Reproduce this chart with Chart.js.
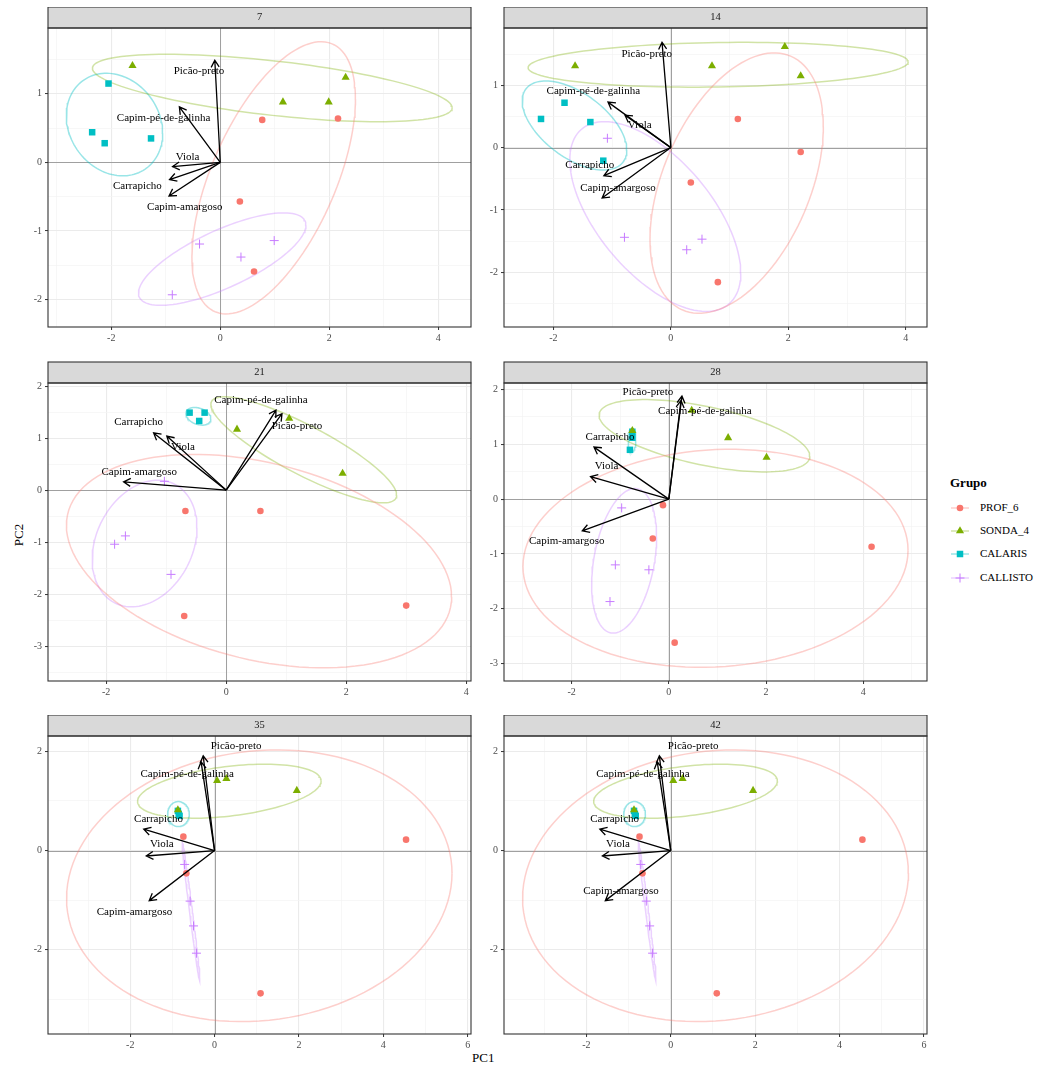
<!DOCTYPE html>
<html>
<head>
<meta charset="utf-8">
<script src="https://cdn.jsdelivr.net/npm/chart.js@4.4.1/dist/chart.umd.min.js"></script>
<style>
  body { margin: 0; background: #fff; width: 1039px; height: 1071px; position: relative; overflow: hidden; font-family: 'Liberation Serif', serif; }
  canvas { position: absolute; }
  .tit { position: absolute; font-size: 13px; font-weight: normal; color: #000; }
  .leg { position: absolute; font-size: 11px; color: #000; }
</style>
</head>
<body>
<div class="tit" style="left:472px;top:1050px;">PC1</div>
<div class="tit" style="left:8px;top:527px;transform:rotate(-90deg);">PC2</div>
<div class="tit" style="left:950px;top:475px;font-weight:bold;">Grupo</div>
<script>
// dados
const facetas = ['7', '14', '21', '28', '35', '42'];
const grupos = ['PROF_6', 'SONDA_4', 'CALARIS', 'CALLISTO'];
const variaveis = ['Picão-preto', 'Capim-pé-de-galinha', 'Viola', 'Carrapicho', 'Capim-amargoso'];

// limites e passo dos eixos por faceta
const xLim = [[-3.16, 4.6], [-2.84, 4.36], [-2.97, 4.08], [-3.39, 5.31], [-3.95, 6.08], [-3.95, 6.07]];
const yLim = [[-2.40, 1.96], [-2.88, 1.92], [-3.67, 2.06], [-3.32, 2.12], [-3.70, 2.31], [-3.70, 2.31]];
const xPasso = [2, 2, 2, 2, 2, 2];
const yPasso = [1, 1, 1, 1, 2, 2];

// scores: [grupo, PC1, PC2]
const pts7 = [
  ['PROF_6', 0.77, 0.62], ['PROF_6', 2.16, 0.64], ['PROF_6', 0.36, -0.57], ['PROF_6', 0.62, -1.59],
  ['SONDA_4', -1.61, 1.41], ['SONDA_4', 1.15, 0.88], ['SONDA_4', 1.99, 0.88], ['SONDA_4', 2.30, 1.24],
  ['CALARIS', -2.05, 1.15], ['CALARIS', -2.35, 0.44], ['CALARIS', -2.12, 0.28], ['CALARIS', -1.27, 0.35],
  ['CALLISTO', -0.38, -1.19], ['CALLISTO', 0.38, -1.38], ['CALLISTO', 0.99, -1.14], ['CALLISTO', -0.88, -1.93]
];
const pts14 = [
  ['PROF_6', 1.14, 0.46], ['PROF_6', 2.21, -0.07], ['PROF_6', 0.34, -0.56], ['PROF_6', 0.80, -2.16],
  ['SONDA_4', -1.63, 1.31], ['SONDA_4', 0.70, 1.31], ['SONDA_4', 1.94, 1.62], ['SONDA_4', 2.21, 1.15],
  ['CALARIS', -2.21, 0.46], ['CALARIS', -1.81, 0.72], ['CALARIS', -1.37, 0.41], ['CALARIS', -1.15, -0.21],
  ['CALLISTO', -1.08, 0.15], ['CALLISTO', -0.79, -1.44], ['CALLISTO', 0.27, -1.64], ['CALLISTO', 0.53, -1.47]
];
const pts21 = [
  ['PROF_6', -0.68, -0.40], ['PROF_6', 0.57, -0.40], ['PROF_6', -0.70, -2.42], ['PROF_6', 3.00, -2.22],
  ['SONDA_4', 0.18, 1.17], ['SONDA_4', 1.05, 1.38], ['SONDA_4', 1.94, 0.32],
  ['CALARIS', -0.61, 1.49], ['CALARIS', -0.36, 1.49], ['CALARIS', -0.45, 1.33],
  ['CALLISTO', -1.03, 0.17], ['CALLISTO', -1.68, -0.88], ['CALLISTO', -1.86, -1.04], ['CALLISTO', -0.92, -1.62]
];
const pts28 = [
  ['PROF_6', -0.12, -0.11], ['PROF_6', -0.33, -0.72], ['PROF_6', 4.17, -0.87], ['PROF_6', 0.12, -2.62],
  ['SONDA_4', 0.47, 1.62], ['SONDA_4', 1.22, 1.12], ['SONDA_4', 2.01, 0.76], ['SONDA_4', -0.75, 1.25],
  ['CALARIS', -0.75, 1.23], ['CALARIS', -0.75, 1.12], ['CALARIS', -0.80, 0.90],
  ['CALLISTO', -0.97, -0.16], ['CALLISTO', -1.10, -1.20], ['CALLISTO', -0.41, -1.29], ['CALLISTO', -1.21, -1.87]
];
const pts35 = [
  ['PROF_6', -0.74, 0.28], ['PROF_6', -0.67, -0.46], ['PROF_6', 4.54, 0.22], ['PROF_6', 1.09, -2.88],
  ['SONDA_4', 0.06, 1.41], ['SONDA_4', 0.28, 1.45], ['SONDA_4', 1.95, 1.21], ['SONDA_4', -0.87, 0.82],
  ['CALARIS', -0.87, 0.80], ['CALARIS', -0.85, 0.74], ['CALARIS', -0.83, 0.70],
  ['CALLISTO', -0.71, -0.28], ['CALLISTO', -0.58, -1.02], ['CALLISTO', -0.50, -1.52], ['CALLISTO', -0.43, -2.07]
];
const pts42 = [
  ['PROF_6', -0.74, 0.28], ['PROF_6', -0.67, -0.46], ['PROF_6', 4.54, 0.22], ['PROF_6', 1.09, -2.88],
  ['SONDA_4', 0.06, 1.41], ['SONDA_4', 0.28, 1.45], ['SONDA_4', 1.95, 1.21], ['SONDA_4', -0.87, 0.82],
  ['CALARIS', -0.87, 0.80], ['CALARIS', -0.85, 0.74], ['CALARIS', -0.83, 0.70],
  ['CALLISTO', -0.71, -0.28], ['CALLISTO', -0.58, -1.02], ['CALLISTO', -0.50, -1.52], ['CALLISTO', -0.43, -2.07]
];

// elipses por grupo: [centro PC1, centro PC2, meia-largura, meia-altura, correlação]
const elip7 = [[0.98, -0.225, 1.50, 1.985, 0.58], [0.955, 1.085, 3.30, 0.492, -0.585], [-1.94, 0.552, 0.884, 0.748, -0.17], [0.036, -1.41, 1.536, 0.674, 0.734]];
const elip14 = [[1.12, -0.57, 1.475, 2.09, 0.434], [0.805, 1.33, 3.235, 0.36, 0.13], [-1.64, 0.355, 0.89, 0.715, -0.55], [-0.265, -1.107, 1.455, 1.524, -0.596]];
const elip21 = [[0.547, -1.365, 3.21, 2.052, -0.335], [1.293, 0.775, 1.548, 1.019, -0.855], [-0.463, 1.42, 0.208, 0.17, -0.3], [-1.36, -1.027, 0.873, 1.217, 0.25]];
const elip28 = [[0.96, -1.08, 3.96, 1.99, 0.075], [0.733, 1.157, 2.167, 0.66, -0.567], [-0.758, 1.075, 0.08, 0.215, 0], [-0.92, -1.126, 0.668, 1.32, 0.333]];
const elip35 = [[1.06, -0.71, 4.57, 2.74, 0.093], [0.35, 1.197, 2.176, 0.545, 0.38], [-0.857, 0.736, 0.257, 0.252, 0], [-0.56, -1.22, 0.21, 1.40, -0.985]];
const elip42 = [[1.06, -0.71, 4.57, 2.74, 0.093], [0.35, 1.197, 2.176, 0.545, 0.38], [-0.857, 0.736, 0.257, 0.252, 0], [-0.56, -1.22, 0.21, 1.40, -0.985]];

// pontas das setas (cargas), na ordem de variaveis
const setas7 = [[-0.10, 1.49], [-0.75, 0.81], [-0.875, -0.06], [-0.93, -0.25], [-0.94, -0.49]];
const setas14 = [[-0.15, 1.69], [-1.07, 0.73], [-0.78, 0.52], [-1.14, -0.45], [-1.17, -0.81]];
const setas21 = [[0.93, 1.47], [0.83, 1.54], [-0.99, 1.04], [-1.21, 1.10], [-1.71, 0.16]];
const setas28 = [[0.27, 1.88], [0.25, 1.80], [-1.61, 0.41], [-1.54, 0.95], [-1.78, -0.58]];
const setas35 = [[-0.27, 1.91], [-0.32, 1.79], [-1.62, -0.11], [-1.68, 0.43], [-1.55, -1.01]];
const setas42 = [[-0.27, 1.91], [-0.32, 1.79], [-1.62, -0.11], [-1.68, 0.43], [-1.55, -1.01]];

// posição dos rótulos das variáveis
const rot7 = [[-0.39, 1.33], [-1.04, 0.64], [-0.60, 0.08], [-1.52, -0.35], [-0.65, -0.65]];
const rot14 = [[-0.41, 1.50], [-1.32, 0.90], [-0.53, 0.36], [-1.38, -0.28], [-0.90, -0.65]];
const rot21 = [[1.18, 1.24], [0.58, 1.74], [-0.72, 0.83], [-1.46, 1.30], [-1.45, 0.35]];
const rot28 = [[-0.43, 1.95], [0.74, 1.60], [-1.28, 0.60], [-1.21, 1.13], [-2.10, -0.77]];
const rot35 = [[0.51, 2.11], [-0.65, 1.55], [-1.25, 0.12], [-1.33, 0.63], [-1.90, -1.25]];
const rot42 = [[0.53, 2.11], [-0.66, 1.55], [-1.25, 0.12], [-1.33, 0.63], [-1.18, -0.81]];

const pontos = [pts7, pts14, pts21, pts28, pts35, pts42];
const elipses = [elip7, elip14, elip21, elip28, elip35, elip42];
const setas = [setas7, setas14, setas21, setas28, setas35, setas42];
const rotulos = [rot7, rot14, rot21, rot28, rot35, rot42];

// aparência
const cores = ['#F8766D', '#7CAE00', '#00BFC4', '#C77CFF'];
const coresElipse = ['rgba(248,118,109,0.35)', 'rgba(124,174,0,0.35)', 'rgba(0,191,196,0.4)', 'rgba(199,124,255,0.35)'];
const formas = ['circle', 'triangle', 'rect', 'cross'];
const raios = [3.3, 4.7, 4.6, 4.5];
const FONTE = '"Liberation Serif", "Times New Roman", serif';

// posição dos painéis na página
const COLS = [[48, 471], [504, 927]];
const ROWS = [[7, 28, 327], [361, 383, 681], [715, 736, 1034]];
const EIXO_Y = 44, EIXO_X = 24, DIR = 12;

function gerarTicks(min, max, passo) {
  const out = [];
  for (let v = Math.ceil(min / passo) * passo; v <= max + 1e-9; v += passo) {
    out.push({ value: Math.round(v * 1000) / 1000 });
  }
  return out;
}

function ehMaior(v, passo) {
  return Math.abs(v / passo - Math.round(v / passo)) < 1e-6;
}

function eixo(lim, passo, dir) {
  return {
    type: 'linear',
    min: lim[0],
    max: lim[1],
    afterBuildTicks: s => { s.ticks = gerarTicks(lim[0], lim[1], passo / 2); },
    afterFit: s => { if (dir === 'x') s.height = EIXO_X; else s.width = EIXO_Y; },
    border: { display: false },
    grid: {
      color: c => (c.tick && ehMaior(c.tick.value, passo)) ? '#ebebeb' : '#f4f4f4',
      lineWidth: c => (c.tick && ehMaior(c.tick.value, passo)) ? 1.1 : 0.7,
      tickColor: c => (c.tick && ehMaior(c.tick.value, passo)) ? '#333333' : 'rgba(0,0,0,0)',
      tickLength: 3,
      tickWidth: 1
    },
    ticks: {
      autoSkip: false,
      maxRotation: 0,
      padding: dir === 'x' ? 2 : 3,
      color: '#4d4d4d',
      font: { family: FONTE, size: 10 },
      callback: v => ehMaior(v, passo) ? String(Math.round(v)) : ''
    }
  };
}

// linhas de referência, setas, rótulos, faixa e moldura
const biplotPlugin = {
  id: 'biplot',
  beforeDatasetsDraw(chart, args, opts) {
    const { ctx, chartArea: a, scales: { x, y } } = chart;
    ctx.save();
    ctx.strokeStyle = '#a0a0a0';
    ctx.lineWidth = 1;
    ctx.beginPath();
    const x0 = Math.round(x.getPixelForValue(0)) + 0.5;
    const y0 = Math.round(y.getPixelForValue(0)) + 0.5;
    ctx.moveTo(x0, a.top); ctx.lineTo(x0, a.bottom);
    ctx.moveTo(a.left, y0); ctx.lineTo(a.right, y0);
    ctx.stroke();
    ctx.restore();
  },
  afterDatasetsDraw(chart, args, opts) {
    const { ctx, scales: { x, y } } = chart;
    const i = opts.indice;
    const ox = x.getPixelForValue(0), oy = y.getPixelForValue(0);
    ctx.save();
    ctx.strokeStyle = '#000';
    ctx.lineWidth = 1.3;
    setas[i].forEach(p => {
      const ex = x.getPixelForValue(p[0]), ey = y.getPixelForValue(p[1]);
      const ang = Math.atan2(ey - oy, ex - ox);
      ctx.beginPath();
      ctx.moveTo(ox, oy);
      ctx.lineTo(ex, ey);
      ctx.moveTo(ex - 8 * Math.cos(ang - Math.PI / 6), ey - 8 * Math.sin(ang - Math.PI / 6));
      ctx.lineTo(ex, ey);
      ctx.lineTo(ex - 8 * Math.cos(ang + Math.PI / 6), ey - 8 * Math.sin(ang + Math.PI / 6));
      ctx.stroke();
    });
    ctx.fillStyle = '#000';
    ctx.font = '11px ' + FONTE;
    ctx.textAlign = 'center';
    ctx.textBaseline = 'middle';
    rotulos[i].forEach((p, k) => {
      ctx.fillText(variaveis[k], x.getPixelForValue(p[0]), y.getPixelForValue(p[1]));
    });
    ctx.restore();
  },
  afterDraw(chart, args, opts) {
    const { ctx, chartArea: a } = chart;
    ctx.save();
    ctx.fillStyle = '#d9d9d9';
    ctx.fillRect(a.left, a.top - 21, a.right - a.left, 21);
    ctx.strokeStyle = '#333333';
    ctx.lineWidth = 1.1;
    ctx.strokeRect(a.left, a.top - 21, a.right - a.left, 21);
    ctx.strokeRect(a.left, a.top, a.right - a.left, a.bottom - a.top);
    ctx.fillStyle = '#1a1a1a';
    ctx.font = '10.5px ' + FONTE;
    ctx.textAlign = 'center';
    ctx.textBaseline = 'middle';
    ctx.fillText(facetas[opts.indice], (a.left + a.right) / 2, a.top - 10.5);
    ctx.restore();
  }
};

function pontosElipse(e) {
  const [cx, cy, rx, ry, c] = e;
  const phi = Math.acos(c);
  const out = [];
  for (let j = 0; j <= 120; j++) {
    const t = j / 120 * 2 * Math.PI;
    out.push({ x: cx + rx * Math.cos(t), y: cy + ry * Math.cos(t - phi) });
  }
  return out;
}

facetas.forEach((f, i) => {
  const col = COLS[i % 2], row = ROWS[Math.floor(i / 2)];
  const canvas = document.createElement('canvas');
  canvas.width = col[1] - col[0] + EIXO_Y + DIR;
  canvas.height = row[2] - row[0] + EIXO_X;
  canvas.style.left = (col[0] - EIXO_Y) + 'px';
  canvas.style.top = row[0] + 'px';
  document.body.appendChild(canvas);

  const datasets = [];
  grupos.forEach((g, k) => {
    datasets.push({
      label: g,
      data: pontos[i].filter(p => p[0] === g).map(p => ({ x: p[1], y: p[2] })),
      pointStyle: formas[k],
      pointRadius: raios[k],
      backgroundColor: cores[k],
      borderColor: cores[k],
      borderWidth: formas[k] === 'cross' ? 1 : 0,
      showLine: false
    });
  });
  grupos.forEach((g, k) => {
    datasets.push({
      label: g + ' elipse',
      data: pontosElipse(elipses[i][k]),
      showLine: true,
      borderColor: coresElipse[k],
      borderWidth: 1.5,
      pointRadius: 0,
      fill: false,
      tension: 0
    });
  });

  new Chart(canvas, {
    type: 'scatter',
    data: { datasets },
    options: {
      responsive: false,
      animation: false,
      events: [],
      layout: { autoPadding: false, padding: { top: row[1] - row[0], right: DIR, left: 0, bottom: 0 } },
      scales: {
        x: eixo(xLim[i], xPasso[i], 'x'),
        y: eixo(yLim[i], yPasso[i], 'y')
      },
      plugins: {
        legend: { display: false },
        tooltip: { enabled: false },
        biplot: { indice: i }
      }
    },
    plugins: [biplotPlugin]
  });
});

// legenda
grupos.forEach((g, k) => {
  const yc = 508 + k * 23.2;
  const key = document.createElement('canvas');
  key.width = 22; key.height = 16;
  key.style.left = '949px';
  key.style.top = (yc - 8) + 'px';
  document.body.appendChild(key);
  const c = key.getContext('2d');
  c.strokeStyle = coresElipse[k];
  c.lineWidth = 1.5;
  c.beginPath(); c.moveTo(2, 8); c.lineTo(20, 8); c.stroke();
  c.fillStyle = cores[k]; c.strokeStyle = cores[k];
  c.lineWidth = 1;
  Chart.helpers.drawPoint(c, { pointStyle: formas[k], radius: raios[k], borderWidth: formas[k] === 'cross' ? 1 : 0 }, 11, 8);
  const t = document.createElement('div');
  t.className = 'leg';
  t.textContent = g;
  t.style.left = '980px';
  t.style.top = (yc - 7) + 'px';
  document.body.appendChild(t);
});
</script>
</body>
</html>
